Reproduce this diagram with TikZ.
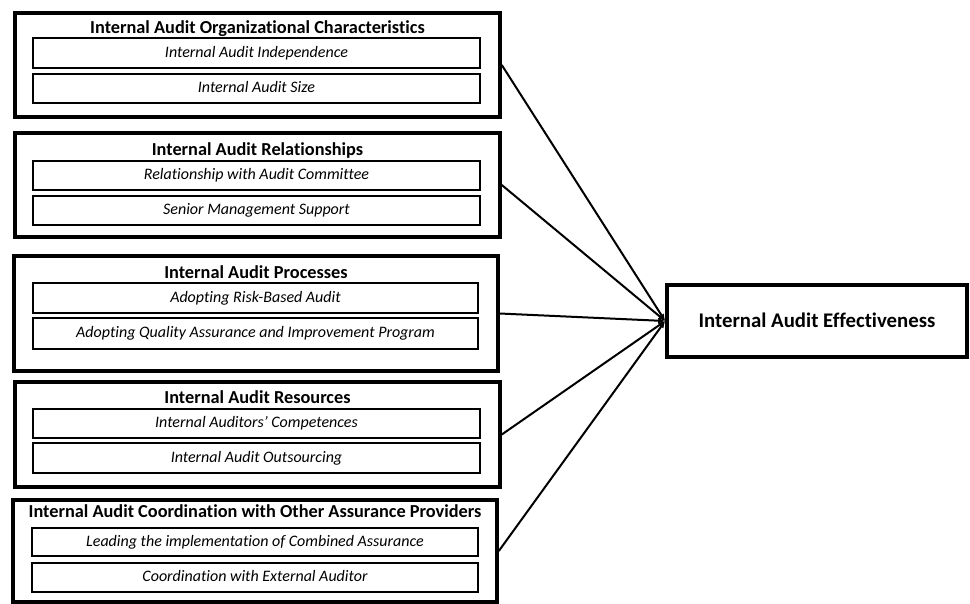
\documentclass[tikz,border=0pt]{standalone}
\usepackage{fontspec}
\setmainfont{Carlito}[Ligatures=NoCommon]
\usetikzlibrary{arrows.meta}
\tikzset{
  outerbox/.style={draw, line width=3.6pt, inner sep=0pt},
  innerbox/.style={draw, line width=1.9pt, inner sep=0pt, text height=10.1pt, text depth=2pt, font=\fontsize{16}{19}\selectfont\itshape},
  titletext/.style={inner sep=0pt, text height=11.6pt, text depth=0pt, font=\fontsize{18.3}{21}\selectfont\bfseries},
  conn/.style={line width=2pt, -{Latex[length=7pt,width=6pt]}},
  effbox/.style={draw, line width=3.6pt, inner sep=0pt, text height=13.1pt, text depth=0pt, font=\fontsize{20.8}{24}\selectfont\bfseries}
}
\begin{document}
\begin{tikzpicture}[x=1pt,y=-1pt]
\useasboundingbox (0,0) rectangle (970,603);
% box 1
\node[outerbox, minimum width=485pt, minimum height=104pt] (o1) at (257.5,65) {};
\node[titletext] (t1) at (257.5,28) {Internal Audit Organizational Characteristics};
\node[innerbox, minimum width=447pt, minimum height=30pt] (a1) at (256.5,53) {Internal Audit Independence};
\node[innerbox, minimum width=447pt, minimum height=29pt] (b1) at (256.5,88.5) {Internal Audit Size};
% box 2
\node[outerbox, minimum width=485pt, minimum height=104pt] (o2) at (257.5,185) {};
\node[titletext] (t2) at (257.5,150) {Internal Audit Relationships};
\node[innerbox, minimum width=447pt, minimum height=29pt] (a2) at (256.5,175.5) {Relationship with Audit Committee};
\node[innerbox, minimum width=447pt, minimum height=29pt] (b2) at (256.5,210.5) {Senior Management Support};
% box 3
\node[outerbox, minimum width=484pt, minimum height=115pt] (o3) at (256,313.5) {};
\node[titletext] (t3) at (256,273) {Internal Audit Processes};
\node[innerbox, minimum width=445pt, minimum height=30pt] (a3) at (255.5,298) {Adopting Risk-Based Audit};
\node[innerbox, minimum width=445pt, minimum height=31pt] (b3) at (255.5,333.5) {Adopting Quality Assurance and Improvement Program};
% box 4
\node[outerbox, minimum width=485pt, minimum height=105pt] (o4) at (257.5,434.5) {};
\node[titletext] (t4) at (257.5,398) {Internal Audit Resources};
\node[innerbox, minimum width=447pt, minimum height=29pt] (a4) at (256.5,423.5) {Internal Auditors’ Competences};
\node[innerbox, minimum width=447pt, minimum height=30pt] (b4) at (256.5,458) {Internal Audit Outsourcing};
% box 5
\node[outerbox, minimum width=484pt, minimum height=102pt] (o5) at (255,551) {};
\node[titletext] (t5) at (255,512) {Internal Audit Coordination with Other Assurance Providers};
\node[innerbox, minimum width=446pt, minimum height=28pt] (a5) at (255,542) {Leading the implementation of Combined Assurance};
\node[innerbox, minimum width=446pt, minimum height=29pt] (b5) at (255,577.5) {Coordination with External Auditor};
% effectiveness
\node[effbox, minimum width=300pt, minimum height=72pt] (eff) at (817,321) {Internal Audit Effectiveness};
% connectors
\foreach \b in {o1,o2,o3,o4,o5}
  \draw[conn] (\b.east) -- (eff.west);
\end{tikzpicture}
\end{document}
